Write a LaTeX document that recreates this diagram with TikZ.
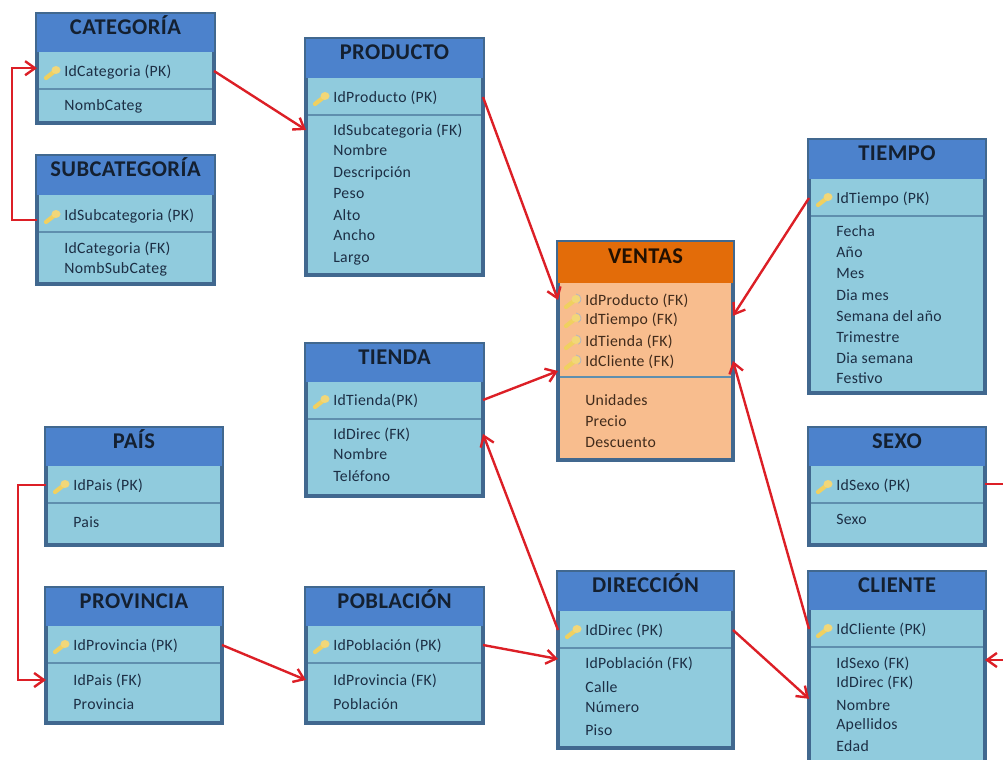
\documentclass[tikz,border=0pt]{standalone}
\usepackage{fontspec}
\setmainfont{Carlito}[LetterSpace=2]
\usetikzlibrary{arrows.meta}

\definecolor{framecol}{HTML}{41688F}
\definecolor{headcol}{HTML}{4C82CC}
\definecolor{bodycol}{HTML}{90CBDD}
\definecolor{rulecol}{HTML}{5F8FAE}
\definecolor{inkcol}{HTML}{1C2E44}
\definecolor{ventahead}{HTML}{E36C09}
\definecolor{ventabody}{HTML}{F8BD8E}
\definecolor{fkcol}{HTML}{DC1F26}
\definecolor{keycol}{HTML}{F0D060}

\tikzset{
  tablebody/.style={draw=framecol,line width=2.2pt,fill=bodycol,inner sep=0,outer sep=0},
  tablehead/.style={fill=headcol},
  tablerule/.style={draw=rulecol,line width=0.8pt},
  tabletitle/.style={font=\fontsize{16}{18}\selectfont\bfseries,text=inkcol!70!black,inner sep=0,text height=2.5pt,text depth=0pt},
  rowtext/.style={anchor=west,font=\fontsize{11.2}{12}\selectfont,text=inkcol,inner sep=0,text height=10pt,text depth=2pt},
  fk/.style={draw=fkcol,line width=1.7pt,-{Straight Barb[length=7pt,width=10pt,line width=1.7pt]}},
  fkline/.style={draw=fkcol,line width=1.7pt},
  keyicon/.pic={
    \draw[keycol,line width=3pt,line cap=round] (-7,6) -- (2,-1);
    \fill[keycol!85!white] (3,-2) ellipse (4.5 and 4);
  },
  keyring/.pic={
    \draw[gray!55,line width=0.6pt] (3,-7) arc (-90:60:5);
  }
}

% name, left, top, right, bottom, head bottom, rule, title, rows
\newcommand{\dbtable}[9]{
  \node[tablebody,minimum width={(#4-#2-2)*0.025cm},minimum height={(#5-#3-2)*0.025cm}] (#1) at ({(#2+#4)/2},{(#3+#5)/2}) {};
  \fill[tablehead] (#2+1,#3+1) rectangle (#4-1,#6);
  \draw[tablerule] (#2+3,#7) -- (#4-3,#7);
  \draw[framecol,line width=1pt] (#2,#5-1) -- (#4,#5-1);
  \node[tabletitle] (#1-t) at ({(#2+#4)/2},{(#3+#6)/2}) {#8};
  \foreach \yy/\txt [count=\i] in {#9}
    \node[rowtext] (#1-\i) at (#2+28,\yy) {\txt};
}

\begin{document}
\begin{tikzpicture}[x=0.025cm,y=-0.025cm]
  \clip (0,0) rectangle (1003,760);

  \dbtable{cat}{36}{13}{215}{124}{52}{89}{CATEGORÍA}{71/{IdCategoria (PK)},105/NombCateg}
  \dbtable{subcat}{36}{155}{215}{285}{195}{232}{SUBCATEGORÍA}{215/{IdSubcategoria (PK)},248/{IdCategoria (FK)},268/NombSubCateg}
  \dbtable{prod}{305}{38}{484}{276}{78}{115}{PRODUCTO}{97/{IdProducto (PK)},130/{IdSubcategoria (FK)},150/Nombre,172/Descripción,193/Peso,215/Alto,235/Ancho,257/Largo}
  \dbtable{tienda}{305}{343}{484}{497}{382}{419}{TIENDA}{400/{IdTienda(PK)},434/{IdDirec (FK)},454/Nombre,476/Teléfono}
  \dbtable{pais}{45}{427}{223}{546}{466}{503}{PAÍS}{485/{IdPais (PK)},522/Pais}
  \dbtable{prov}{45}{587}{223}{724}{626}{663}{PROVINCIA}{645/{IdProvincia (PK)},680/{IdPais (FK)},704/Provincia}
  \dbtable{pob}{305}{587}{484}{724}{626}{663}{POBLACIÓN}{645/{IdPoblación (PK)},680/{IdProvincia (FK)},704/Población}
  \dbtable{dir}{557}{571}{734}{749}{611}{648}{DIRECCIÓN}{630/{IdDirec (PK)},663/{IdPoblación (FK)},687/Calle,707/Número,730/Piso}
  \dbtable{tiempo}{808}{139}{986}{394}{179}{216}{TIEMPO}{198/{IdTiempo (PK)},231/Fecha,252/Año,273/Mes,295/Dia mes,316/Semana del año,337/Trimestre,358/Dia semana,378/Festivo}
  \dbtable{sexo}{808}{427}{986}{546}{466}{503}{SEXO}{485/{IdSexo (PK)},519/Sexo}
  \dbtable{cli}{808}{571}{986}{790}{610}{647}{CLIENTE}{629/{IdCliente (PK)},663/{IdSexo (FK)},682/{IdDirec (FK)},705/Nombre,724/Apellidos,746/Edad}

  \begin{scope}[tablehead/.style={fill=ventahead},tablebody/.append style={fill=ventabody},rowtext/.append style={text=inkcol!60!ventahead!60!black},tabletitle/.append style={text=black!85!ventahead}]
    \dbtable{ventas}{557}{241}{734}{461}{283}{377}{VENTAS}{300/{IdProducto (FK)},319/{IdTiempo (FK)},341/{IdTienda (FK)},361/{IdCliente (FK)},400/Unidades,421/Precio,442/Descuento}
  \end{scope}

  % keys
  \foreach \kx/\ky in {53/72,53/216,322/98,322/401,62/486,62/646,322/646,574/631,825/199,825/486,825/630,573/301,573/320,573/342,573/362}
    \pic at (\kx,\ky) {keyicon};
  \foreach \kx/\ky in {573/301,573/320,573/342,573/362}
    \pic at (\kx,\ky) {keyring};

  % links
  \coordinate (rsexo) at (1003,484);
  \coordinate (rcli) at (1003,660);
  \draw[fk] ([yshift=-0.12cm]subcat.west |- subcat-1) -- ++(-25,0) |- ([yshift=0.07cm]cat.west |- cat-1);
  \draw[fk] (pais.west |- pais-1) -- ++(-28,0) |- (prov.west |- prov-2);
  \draw[fk] (cat.east |- cat-1) -- (prod.west |- prod-2);
  \draw[fk] (prod.east |- prod-1) -- (ventas.west |- ventas-1);
  \draw[fk] (tienda.east |- tienda-1) -- ([yshift=-0.25cm]ventas.west |- ventas-4);
  \draw[fk] (tiempo.west |- tiempo-1) -- ([yshift=0.08cm]ventas.east |- ventas-2);
  \draw[fk] (cli.west |- cli-1) -- (ventas.east |- ventas-4);
  \draw[fk] (dir.west |- dir-1) -- (tienda.east |- tienda-2);
  \draw[fk] (dir.east |- dir-1) -- ([yshift=-0.42cm]cli.west |- cli-3);
  \draw[fk] (pob.east |- pob-1) -- ([yshift=0.1cm]dir.west |- dir-2);
  \draw[fk] (prov.east |- prov-1) -- (pob.west |- pob-2);
  \draw[fkline] (sexo.east |- rsexo) -- (rsexo);
  \draw[fk] (rcli) -- (cli.east |- rcli);
\end{tikzpicture}
\end{document}
